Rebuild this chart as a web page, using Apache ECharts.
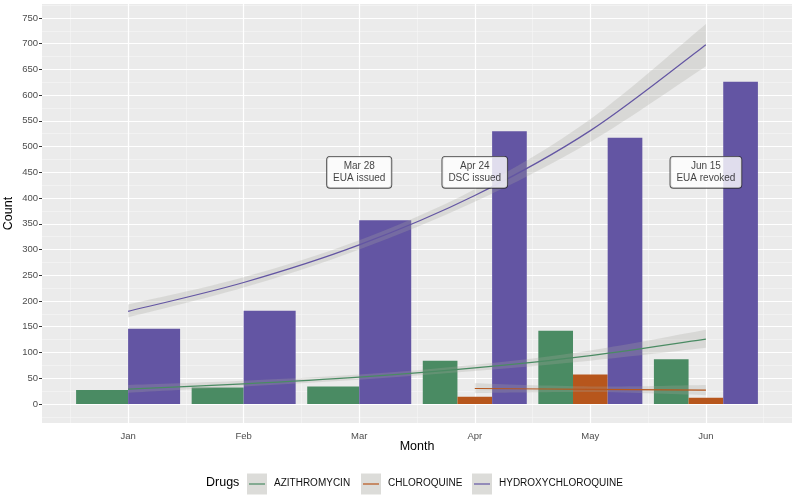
<!DOCTYPE html>
<html>
<head>
<meta charset="utf-8">
<script src="https://cdn.jsdelivr.net/npm/echarts@6.0.0/dist/echarts.min.js"></script>
<style>
  html, body { margin: 0; padding: 0; background: #fff; }
  #chart { width: 796px; height: 497px; }
</style>
</head>
<body>
<div id="chart"></div>
<script>
// ---------- data ----------
const months = ['Jan', 'Feb', 'Mar', 'Apr', 'May', 'Jun'];
const monthPos = [1, 2, 3, 4, 5, 6];
const drugs = ['AZITHROMYCIN', 'CHLOROQUINE', 'HYDROXYCHLOROQUINE'];
const drugColors = ['#4A8B63', '#B7561C', '#6355A3'];

// monthly counts (bars)
const azCounts  = [27, 32, 34, 84, 142, 87];
const cqCounts  = [null, null, null, 14, 57, 12];
const hcqCounts = [146, 181, 357, 530, 517, 626];

// smoothed trend (line) and its confidence band
const azFit   = [29, 39, 52, 70, 94, 126];
const azLow   = [22, 34, 47, 64, 84, 109];
const azHigh  = [37, 45, 57, 76, 104, 144];
const cqFit   = [null, null, null, 30, 28.5, 27];
const cqLow   = [null, null, null, 21, 23, 17];
const cqHigh  = [null, null, null, 40, 34, 37];
const hcqFit  = [180, 236, 309, 405, 531, 698];
const hcqLow  = [168, 226, 300, 393, 509, 656];
const hcqHigh = [193, 246, 318, 417, 553, 738];

// annotations
const noteMonth = [3, 4, 6];
const noteCount = [450, 450, 450];
const noteText  = ['Mar 28\nEUA issued', 'Apr 24\nDSC issued', 'Jun 15\nEUA revoked'];

// axis ticks
const yTicks = [0, 50, 100, 150, 200, 250, 300, 350, 400, 450, 500, 550, 600, 650, 700, 750];
const yMinor = [-25, 25, 75, 125, 175, 225, 275, 325, 375, 425, 475, 525, 575, 625, 675, 725, 775];
const xMinor = [0.5, 1.5, 2.5, 3.5, 4.5, 5.5, 6.5];

// ---------- build ----------
const countsByDrug = [azCounts, cqCounts, hcqCounts];
const fitByDrug = [azFit, cqFit, hcqFit];
const lowByDrug = [azLow, cqLow, hcqLow];
const highByDrug = [azHigh, cqHigh, hcqHigh];

// dodge slots: per month, bars of the drugs present share 0.9 month width
const barData = drugs.map(() => []);
monthPos.forEach((m, i) => {
  const present = [];
  countsByDrug.forEach((arr, d) => { if (arr[i] != null) present.push(d); });
  present.forEach((d, slot) => {
    barData[d].push([m, countsByDrug[d][i], slot, present.length]);
  });
});

function renderBar(params, api) {
  const x = api.value(0), v = api.value(1), slot = api.value(2), n = api.value(3);
  const w = 0.9 / n;
  const left = x - 0.45 + slot * w;
  const p0 = api.coord([left, v]);
  const p1 = api.coord([left + w, 0]);
  return {
    type: 'rect',
    shape: { x: p0[0], y: p0[1], width: p1[0] - p0[0], height: p1[1] - p0[1] },
    style: { fill: api.visual('color') }
  };
}

// smooth curve through pixel points (Catmull-Rom as cubic Bezier)
function curvePath(pts, start) {
  let s = start ? 'M' + pts[0][0] + ',' + pts[0][1] : 'L' + pts[0][0] + ',' + pts[0][1];
  for (let i = 0; i < pts.length - 1; i++) {
    const p0 = pts[Math.max(i - 1, 0)], p1 = pts[i], p2 = pts[i + 1], p3 = pts[Math.min(i + 2, pts.length - 1)];
    const c1 = [p1[0] + (p2[0] - p0[0]) / 6, p1[1] + (p2[1] - p0[1]) / 6];
    const c2 = [p2[0] - (p3[0] - p1[0]) / 6, p2[1] - (p3[1] - p1[1]) / 6];
    s += 'C' + c1[0] + ',' + c1[1] + ' ' + c2[0] + ',' + c2[1] + ' ' + p2[0] + ',' + p2[1];
  }
  return s;
}

function pointsOf(api, arr) {
  const pts = [];
  monthPos.forEach((m, i) => { if (arr[i] != null) pts.push(api.coord([m, arr[i]])); });
  return pts;
}

function renderBand(params, api) {
  const d = api.value(0);
  const up = pointsOf(api, highByDrug[d]);
  const lo = pointsOf(api, lowByDrug[d]).reverse();
  return {
    type: 'path',
    shape: { pathData: curvePath(up, true) + curvePath(lo, false) + 'Z' },
    style: { fill: 'rgba(165,165,158,0.27)', stroke: null }
  };
}

function renderTrend(params, api) {
  const d = api.value(0);
  const pts = pointsOf(api, fitByDrug[d]);
  return {
    type: 'path',
    shape: { pathData: curvePath(pts, true) },
    style: { fill: null, stroke: drugColors[d], lineWidth: 1.2 }
  };
}

const series = [];

// grid lines
series.push({
  type: 'line', data: [], z: 1, silent: true,
  markLine: {
    silent: true, symbol: 'none', label: { show: false }, z: 1,
    animation: false,
    data: [
      ...yMinor.map(v => ({ yAxis: v, lineStyle: { color: '#F6F6F6', width: 0.6, type: 'solid' } })),
      ...xMinor.map(v => ({ xAxis: v, lineStyle: { color: '#F6F6F6', width: 0.6, type: 'solid' } })),
      ...yTicks.map(v => ({ yAxis: v, lineStyle: { color: '#FFFFFF', width: 1.2, type: 'solid' } })),
      ...monthPos.map(v => ({ xAxis: v, lineStyle: { color: '#FFFFFF', width: 1.2, type: 'solid' } }))
    ]
  }
});

// bars
drugs.forEach((name, d) => {
  series.push({
    type: 'custom', name: name, z: 2,
    renderItem: renderBar,
    itemStyle: { color: drugColors[d] },
    encode: { x: 0, y: 1 },
    data: barData[d]
  });
});

// confidence bands and trend lines
series.push({
  type: 'custom', name: 'bands', z: 3, silent: true,
  renderItem: renderBand,
  data: drugs.map((n, d) => [d])
});
series.push({
  type: 'custom', name: 'trends', z: 4, silent: true,
  renderItem: renderTrend,
  data: drugs.map((n, d) => [d])
});

// annotations
const font = 'Liberation Sans, Arial, sans-serif';
series.push({
  type: 'scatter', z: 5, silent: true,
  symbolSize: 0,
  data: noteMonth.map((m, i) => [m, noteCount[i]]),
  label: {
    show: true, position: 'inside',
    formatter: p => noteText[p.dataIndex],
    fontFamily: font,
    fontSize: 10, lineHeight: 12, color: '#111', align: 'center',
    backgroundColor: '#FFFFFF', borderColor: '#222', borderWidth: 0.9,
    borderRadius: 3, padding: [4, 6, 3, 6]
  }
});

// legend (drawn as graphics to match ggplot layout)
const legendY = 484;
const keyX = [247, 361, 472];
const legendGraphics = [
  { type: 'text', left: 206, top: legendY - 8, style: { text: 'Drugs', fill: '#000', font: '12.5px ' + font } }
];
drugs.forEach((name, d) => {
  legendGraphics.push({ type: 'rect', shape: { x: keyX[d], y: legendY - 10.5, width: 20, height: 21 },
    style: { fill: '#DCDCD9' } });
  legendGraphics.push({ type: 'line', shape: { x1: keyX[d] + 2, y1: legendY, x2: keyX[d] + 18, y2: legendY },
    style: { stroke: drugColors[d], lineWidth: 1.2 } });
  legendGraphics.push({ type: 'text', left: keyX[d] + 27, top: legendY - 6, style: { text: name, fill: '#111', font: '10px ' + font } });
});

const chart = echarts.init(document.getElementById('chart'), null, { renderer: 'canvas' });
chart.setOption({
  animation: false,
  backgroundColor: '#FFFFFF',
  grid: { left: 42, right: 4, top: 4, bottom: 74, show: true, backgroundColor: '#EBEBEB', borderWidth: 0,
          containLabel: false, outerBoundsMode: 'none' },
  xAxis: {
    type: 'value', min: 0.255, max: 6.745,
    name: 'Month', nameLocation: 'middle', nameGap: 17, nameMoveOverlap: false,
    nameTextStyle: { fontFamily: font, fontSize: 12.5, color: '#000' },
    axisLine: { show: false },
    axisTick: { show: true, length: 3, lineStyle: { color: '#333', width: 1 }, customValues: monthPos },
    axisLabel: { customValues: monthPos, formatter: v => months[Math.round(v) - 1], color: '#4D4D4D', fontFamily: font, fontSize: 9.5, margin: 8 },
    splitLine: { show: false }
  },
  yAxis: {
    type: 'value', min: -37, max: 777,
    name: 'Count', nameLocation: 'middle', nameGap: 27, nameRotate: 90, nameMoveOverlap: false,
    nameTextStyle: { fontFamily: font, fontSize: 12.5, color: '#000' },
    axisLine: { show: false },
    axisTick: { show: true, length: 3, lineStyle: { color: '#333', width: 1 }, customValues: yTicks },
    axisLabel: { customValues: yTicks, color: '#4D4D4D', fontFamily: font, fontSize: 9.5, margin: 4 },
    splitLine: { show: false }
  },
  graphic: legendGraphics,
  series: series
});
</script>
</body>
</html>
